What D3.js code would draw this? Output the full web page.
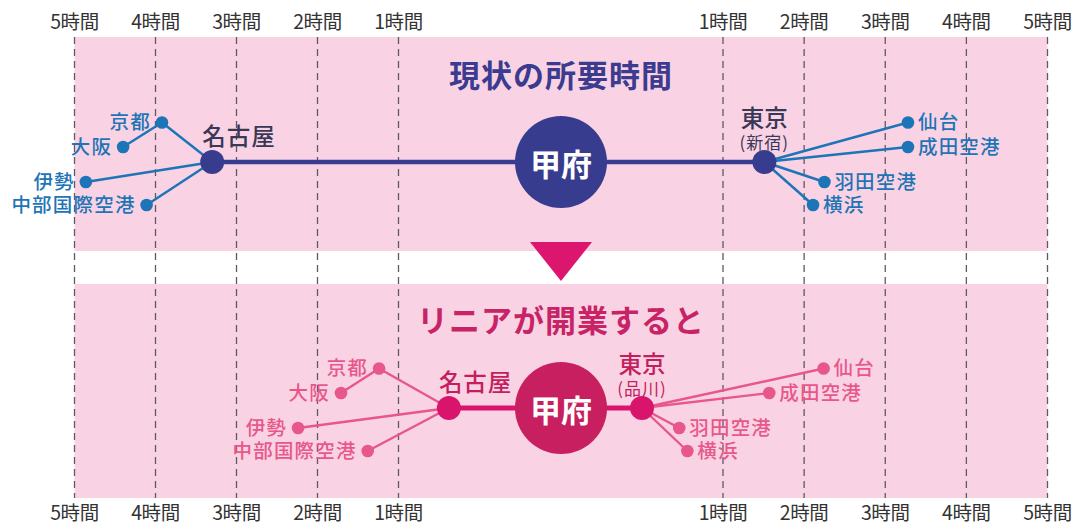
<!DOCTYPE html>
<html><head><meta charset="utf-8">
<script src="https://cdn.jsdelivr.net/npm/d3@7/dist/d3.min.js"></script>
<style>
html,body{margin:0;padding:0;background:#fff;}
svg{display:block;font-family:"Noto Sans CJK JP","Noto Sans",sans-serif;}
</style></head>
<body>
<svg id="chart" width="1077" height="526"></svg>
<script>
// ---- data ----
const hourTicks = [-5, -4, -3, -2, -1, 1, 2, 3, 4, 5];
const tickLabels = ["5時間","4時間","3時間","2時間","1時間","1時間","2時間","3時間","4時間","5時間"];
const center = "甲府";
const titles = ["現状の所要時間", "リニアが開業すると"];

// hubs: [name, sub label, hours (negative = west)]
const hubsNow   = [["名古屋", "", -3.30], ["東京", "(新宿)", 1.51]];
const hubsLinear= [["名古屋", "", -0.69], ["東京", "(品川)", 0.50]];

const branchNames = ["京都", "大阪", "伊勢", "中部国際空港", "仙台", "成田空港", "羽田空港", "横浜"];
const branchHub   = ["名古屋", "京都", "名古屋", "名古屋", "東京", "東京", "東京", "東京"];
const branchLane  = [0, 1, 2, 3, 0, 1, 2, 3];
const hoursNow    = [-3.92, -4.40, -4.86, -4.11, 3.28, 3.28, 2.25, 2.11];
const hoursLinear = [-1.24, -1.71, -2.24, -1.38, 2.24, 1.57, 0.73, 0.78];

// ---- layout ----
const svg = d3.select("#chart");
const x = d3.scaleLinear().domain([-5, -1, 0, 1, 5]).range([74.5, 398.5, 561, 723, 1047.5]);
const laneY = d3.scaleOrdinal().domain([0, 1, 2, 3]).range([-39.5, -15, 20, 43]);

const panels = [
  {y0: 37, y1: 251, lineY: 162, title: titles[0], titleY: 73, hubs: hubsNow, hours: hoursNow,
   main: "#383c8f", circle: "#383c8f", hubDot: "#383c8f", hubText: "#3a3857",
   branch: "#1d74b6", branchText: "#1d74b6", titleColor: "#3b3b8f", lineW: 4.5},
  {y0: 284, y1: 498, lineY: 408, title: titles[1], titleY: 318, hubs: hubsLinear, hours: hoursLinear,
   main: "#d9146c", circle: "#c81f60", hubDot: "#d9146c", hubText: "#c41e5e",
   branch: "#e8578a", branchText: "#e8578a", titleColor: "#c92367", lineW: 5}
];

// bands
panels.forEach(p => {
  svg.append("rect").attr("x", x(-5)).attr("y", p.y0).attr("width", x(5) - x(-5))
    .attr("height", p.y1 - p.y0).attr("fill", "#f9d3e4");
});

// grid
svg.append("g").selectAll("line").data(hourTicks).join("line")
  .attr("x1", d => x(d)).attr("x2", d => x(d)).attr("y1", 37).attr("y2", 498)
  .attr("stroke", "#5f5a5e").attr("stroke-width", 1.3).attr("stroke-dasharray", "7,5");

// tick labels
[29, 520].forEach(ty => {
  svg.append("g").selectAll("text").data(hourTicks).join("text")
    .attr("x", d => x(d)).attr("y", ty).attr("text-anchor", "middle")
    .attr("font-size", 19.5).attr("fill", "#333").style("letter-spacing", "-0.4px")
    .text((d, i) => tickLabels[i]);
});

// arrow
svg.append("path").attr("d", d3.line()([[x(0) - 31, 242], [x(0) + 31, 242], [x(0), 281]]) + "Z")
  .attr("fill", "#dc156e");

panels.forEach(p => {
  const g = svg.append("g");
  const hubPos = {};
  p.hubs.forEach(h => { hubPos[h[0]] = [x(h[2]), p.lineY]; });
  const pts = branchNames.map((n, i) => [x(p.hours[i]), p.lineY + laneY(branchLane[i])]);
  const pos = Object.assign({}, hubPos);
  branchNames.forEach((n, i) => { pos[n] = pts[i]; });

  // title
  g.append("text").attr("x", x(0)).attr("y", p.titleY).attr("text-anchor", "middle")
    .attr("dominant-baseline", "central").attr("font-size", 31).attr("font-weight", 700)
    .style("letter-spacing", "1px")
    .attr("fill", p.titleColor).text(p.title);

  // branch lines
  g.selectAll("line.br").data(branchNames).join("line").attr("class", "br")
    .attr("x1", (d, i) => pts[i][0]).attr("y1", (d, i) => pts[i][1])
    .attr("x2", (d, i) => pos[branchHub[i]][0]).attr("y2", (d, i) => pos[branchHub[i]][1])
    .attr("stroke", p.branch).attr("stroke-width", 2.4);

  // main line
  g.append("line").attr("x1", hubPos["名古屋"][0]).attr("x2", hubPos["東京"][0])
    .attr("y1", p.lineY).attr("y2", p.lineY).attr("stroke", p.main).attr("stroke-width", p.lineW);

  // branch dots
  g.selectAll("circle.bd").data(branchNames).join("circle").attr("class", "bd")
    .attr("cx", (d, i) => pts[i][0]).attr("cy", (d, i) => pts[i][1]).attr("r", 6.3)
    .attr("fill", p.branch);

  // branch labels
  g.selectAll("text.bl").data(branchNames).join("text").attr("class", "bl")
    .attr("x", (d, i) => p.hours[i] < 0 ? pts[i][0] - 11 : pts[i][0] + 10)
    .attr("y", (d, i) => pts[i][1] - 2)
    .attr("text-anchor", (d, i) => p.hours[i] < 0 ? "end" : "start")
    .attr("dominant-baseline", "central").attr("font-size", 19.5).attr("font-weight", 500)
    .attr("fill", p.branchText).style("letter-spacing", "1.2px").text(d => d);

  // hubs
  p.hubs.forEach(h => {
    const [hx, hy] = hubPos[h[0]];
    g.append("circle").attr("cx", hx).attr("cy", hy).attr("r", 12).attr("fill", p.hubDot);
    if (h[1] === "") {
      g.append("text").attr("x", hx - 10).attr("y", hy - 27).attr("dominant-baseline", "central")
        .attr("font-size", 23.5).attr("font-weight", 500).attr("fill", p.hubText)
        .style("letter-spacing", "1px").text(h[0]);
    } else {
      g.append("text").attr("x", hx).attr("y", hy - 45).attr("text-anchor", "middle")
        .attr("dominant-baseline", "central").attr("font-size", 23.5).attr("font-weight", 500)
        .attr("fill", p.hubText).text(h[0]);
      g.append("text").attr("x", hx).attr("y", hy - 21).attr("text-anchor", "middle")
        .attr("dominant-baseline", "central").attr("font-size", 17)
        .style("letter-spacing", "1px")
        .attr("fill", p.hubText).text(h[1]);
    }
  });

  // center circle
  g.append("circle").attr("cx", x(0)).attr("cy", p.lineY).attr("r", 46).attr("fill", p.circle);
  g.append("text").attr("x", x(0)).attr("y", p.lineY).attr("text-anchor", "middle")
    .attr("dominant-baseline", "central").attr("font-size", 31).attr("font-weight", 700)
    .attr("fill", "#fff").text(center);
});
</script>
</body></html>
